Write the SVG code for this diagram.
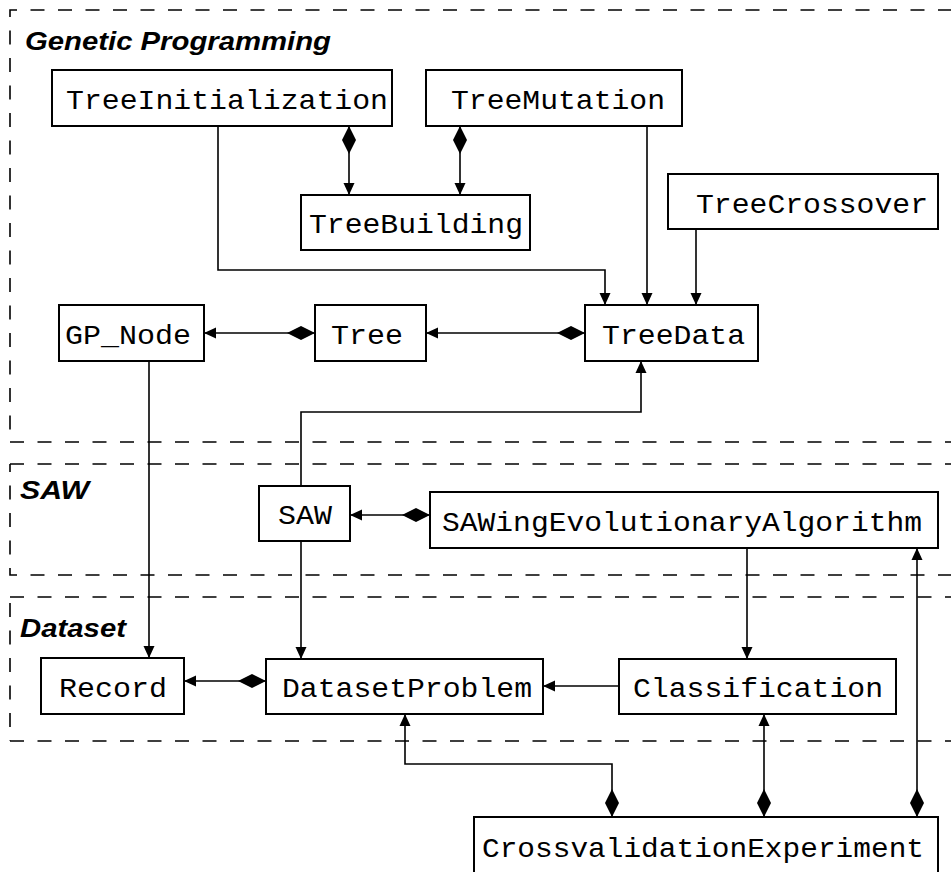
<svg xmlns="http://www.w3.org/2000/svg" width="951" height="872" viewBox="0 0 951 872">
  <style>
    .pkg { fill: none; stroke: #000; stroke-width: 1.6; stroke-dasharray: 14 13.5; }
    .pkgname { font-family: "Liberation Sans", Arial, sans-serif; font-weight: bold; font-style: italic; font-size: 26px; fill: #000; }
    .box { fill: #fff; stroke: #000; stroke-width: 2; }
    .lbl { font-family: "Liberation Mono", "Courier New", monospace; font-size: 28px; fill: #000; }
    .edge { fill: none; stroke: #000; stroke-width: 1.6; }
    .arr { marker-end: url(#arrow); }
    .comp { marker-start: url(#diamond); }
  </style>
  <defs>
    <marker id="arrow" markerUnits="userSpaceOnUse" markerWidth="14" markerHeight="12" refX="13" refY="6" orient="auto" overflow="visible">
      <path d="M13,6 L1,0.5 L1,11.5 Z" fill="#000"/>
    </marker>
    <marker id="diamond" markerUnits="userSpaceOnUse" markerWidth="30" markerHeight="16" refX="0" refY="8" orient="auto" overflow="visible">
      <path d="M0,8 L14,1 L28,8 L14,15 Z" fill="#000"/>
    </marker>
  </defs>

  <rect width="951" height="872" fill="#fff"/>

  <!-- package frames -->
  <g id="packages">
    <path class="pkg" d="M10,442 V10 H951" stroke-dashoffset="15"/>
    <path class="pkg" d="M10,442 H951"/>
    <text class="pkgname" x="25" y="50" textLength="306" lengthAdjust="spacingAndGlyphs">Genetic Programming</text>

    <path class="pkg" d="M10,464 H951"/>
    <path class="pkg" d="M10,464 V575 H951" stroke-dashoffset="6"/>
    <text class="pkgname" x="20" y="499" textLength="69" lengthAdjust="spacingAndGlyphs">SAW</text>

    <path class="pkg" d="M10,597 H951"/>
    <path class="pkg" d="M10,603 V741"/>
    <path class="pkg" d="M10,741 H951"/>
    <text class="pkgname" x="20" y="637" textLength="106" lengthAdjust="spacingAndGlyphs">Dataset</text>
  </g>

  <!-- connectors -->
  <g id="connectors">
    <path class="edge arr" d="M218,126 V270 H605 V305"/>
    <path class="edge comp arr" d="M349,126 V195"/>
    <path class="edge comp arr" d="M460,126 V195"/>
    <path class="edge arr" d="M647,126 V305"/>
    <path class="edge arr" d="M696,229 V305"/>
    <path class="edge comp arr" d="M585,333 H426"/>
    <path class="edge comp arr" d="M315,333 H204"/>
    <path class="edge arr" d="M149,361 V658"/>
    <path class="edge arr" d="M301,486 V412 H641 V361"/>
    <path class="edge arr" d="M301,541 V659"/>
    <path class="edge comp arr" d="M430,515 H350"/>
    <path class="edge arr" d="M747,548 V659"/>
    <path class="edge arr" d="M619,686 H543"/>
    <path class="edge comp arr" d="M266,681 H184"/>
    <path class="edge comp arr" d="M612,817 V764 H405 V714"/>
    <path class="edge comp arr" d="M764,817 V714"/>
    <path class="edge comp arr" d="M917,817 V548"/>
  </g>

  <!-- classes -->
  <g id="TreeInitialization">
    <rect class="box" x="52" y="70" width="340" height="56"/>
    <text class="lbl" x="66" y="109" textLength="322" lengthAdjust="spacingAndGlyphs">TreeInitialization</text>
  </g>
  <g id="TreeMutation">
    <rect class="box" x="426" y="70" width="256" height="56"/>
    <text class="lbl" x="451" y="109" textLength="214" lengthAdjust="spacingAndGlyphs">TreeMutation</text>
  </g>
  <g id="TreeBuilding">
    <rect class="box" x="301" y="195" width="229" height="55"/>
    <text class="lbl" x="309" y="233" textLength="214" lengthAdjust="spacingAndGlyphs">TreeBuilding</text>
  </g>
  <g id="TreeCrossover">
    <rect class="box" x="668" y="174" width="270" height="55"/>
    <text class="lbl" x="696" y="213" textLength="232" lengthAdjust="spacingAndGlyphs">TreeCrossover</text>
  </g>
  <g id="GP_Node">
    <rect class="box" x="59" y="305" width="145" height="56"/>
    <text class="lbl" x="65" y="344" textLength="126" lengthAdjust="spacingAndGlyphs">GP_Node</text>
  </g>
  <g id="Tree">
    <rect class="box" x="315" y="305" width="111" height="56"/>
    <text class="lbl" x="331" y="344" textLength="72" lengthAdjust="spacingAndGlyphs">Tree</text>
  </g>
  <g id="TreeData">
    <rect class="box" x="585" y="305" width="173" height="56"/>
    <text class="lbl" x="602" y="344" textLength="143" lengthAdjust="spacingAndGlyphs">TreeData</text>
  </g>
  <g id="SAW">
    <rect class="box" x="259" y="486" width="91" height="55"/>
    <text class="lbl" x="278" y="524" textLength="54" lengthAdjust="spacingAndGlyphs">SAW</text>
  </g>
  <g id="SAWingEvolutionaryAlgorithm">
    <rect class="box" x="430" y="492" width="508" height="56"/>
    <text class="lbl" x="442" y="531" textLength="480" lengthAdjust="spacingAndGlyphs">SAWingEvolutionaryAlgorithm</text>
  </g>
  <g id="Record">
    <rect class="box" x="41" y="658" width="143" height="56"/>
    <text class="lbl" x="59" y="697" textLength="108" lengthAdjust="spacingAndGlyphs">Record</text>
  </g>
  <g id="DatasetProblem">
    <rect class="box" x="266" y="659" width="277" height="55"/>
    <text class="lbl" x="282" y="697" textLength="250" lengthAdjust="spacingAndGlyphs">DatasetProblem</text>
  </g>
  <g id="Classification">
    <rect class="box" x="619" y="659" width="277" height="55"/>
    <text class="lbl" x="633" y="697" textLength="250" lengthAdjust="spacingAndGlyphs">Classification</text>
  </g>
  <g id="CrossvalidationExperiment">
    <rect class="box" x="474" y="817" width="464" height="70"/>
    <text class="lbl" x="482" y="857" textLength="442" lengthAdjust="spacingAndGlyphs">CrossvalidationExperiment</text>
  </g>
</svg>
